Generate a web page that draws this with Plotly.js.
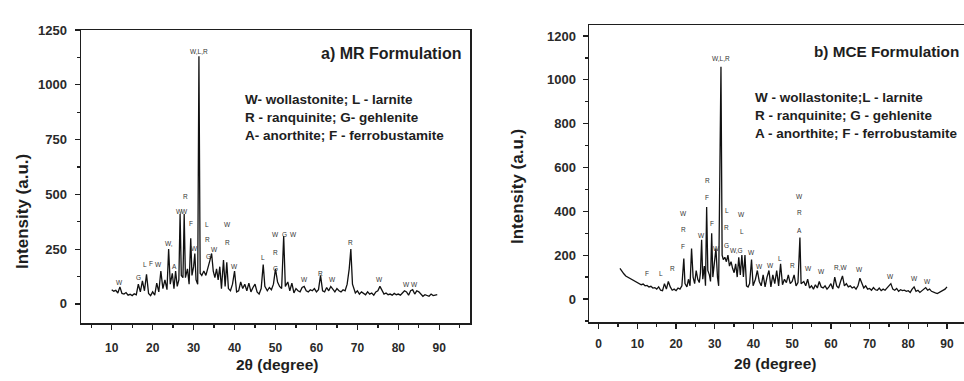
<!DOCTYPE html>
<html>
<head>
<meta charset="utf-8">
<script src="https://cdn.plot.ly/plotly-3.0.1.min.js"></script>
<style>
html,body{margin:0;padding:0;background:#fff;overflow:hidden;width:964px;height:381px;}
#chart{width:1000px;height:381px;}
</style>
</head>
<body>
<div id="chart"></div>
<script>
// ---- a) MR formulation ----
const mrTheta = [10.0,10.5,11.0,11.5,12.0,12.5,13.0,13.5,14.0,14.5,15.0,15.5,16.0,16.5,17.0,17.5,18.0,18.5,19.0,19.5,20.0,20.5,21.0,21.5,22.0,22.5,23.0,23.5,23.9,24.3,24.8,25.2,25.6,26.0,26.4,26.7,27.0,27.4,27.7,28.0,28.5,28.9,29.3,29.6,30.0,30.3,30.6,31.0,31.3,31.6,32.0,32.5,33.0,33.5,34.0,34.4,34.8,35.2,35.6,36.0,36.4,36.8,37.3,37.7,38.1,38.5,39.0,39.5,40.0,40.5,41.0,41.5,42.0,42.5,43.0,43.5,44.0,44.5,45.0,45.5,46.0,46.5,47.0,47.4,48.0,48.5,49.0,49.5,50.0,50.5,51.0,51.5,52.0,52.4,53.0,53.5,54.0,54.5,55.0,55.5,56.0,56.5,57.0,57.5,58.0,58.5,59.0,59.5,60.0,60.5,61.0,61.5,62.0,62.5,63.0,63.5,64.0,64.5,65.0,65.5,66.0,66.5,67.0,67.5,68.0,68.4,68.8,69.5,70.0,70.5,71.0,71.5,72.0,72.5,73.0,73.5,74.0,74.5,75.0,75.5,76.0,76.5,77.0,77.5,78.0,78.5,79.0,79.5,80.0,80.5,81.0,81.5,82.0,82.5,83.0,83.5,84.0,84.5,85.0,85.5,86.0,86.5,87.0,87.5,88.0,88.5,89.0,89.5];
const mrIntensity = [65,58,62,50,78,48,45,52,40,44,38,46,42,90,55,105,60,135,48,38,55,40,95,55,150,70,110,65,250,90,140,70,150,80,110,410,130,120,410,120,160,90,300,130,170,230,110,90,1130,140,130,150,130,160,200,230,150,120,160,110,170,70,200,80,190,70,60,90,150,55,60,100,70,90,60,95,55,75,90,55,45,70,180,80,60,75,65,90,160,100,80,70,310,80,100,60,95,50,70,60,55,75,80,60,55,65,60,70,55,65,130,60,55,75,60,80,65,55,70,60,55,65,60,90,160,250,90,50,60,45,55,48,42,55,45,50,40,55,60,80,60,45,50,42,45,40,48,42,45,40,50,60,55,40,60,65,45,60,55,45,35,42,38,35,45,38,40,42];

// ---- b) MCE formulation ----
const mceTheta = [5.5,6.0,6.5,7.0,7.5,8.0,8.5,9.0,9.5,10.0,10.5,11.0,11.5,12.0,12.5,13.0,13.5,14.0,14.5,15.0,15.5,16.0,16.5,17.0,17.5,18.0,18.5,19.0,19.5,20.0,20.5,21.0,21.5,22.0,22.3,22.8,23.2,23.6,24.0,24.4,24.8,25.2,25.6,26.0,26.3,26.6,26.9,27.3,27.6,27.9,28.2,28.6,28.9,29.2,29.5,29.9,30.3,30.7,31.0,31.6,31.9,32.2,32.6,33.0,33.4,33.8,34.2,34.6,35.0,35.4,35.8,36.2,36.6,37.0,37.4,37.8,38.2,38.6,39.0,39.5,39.9,40.5,41.0,41.5,42.0,42.5,43.0,43.5,44.0,44.5,45.0,45.5,46.0,46.5,47.0,47.5,48.0,48.5,49.0,49.5,50.0,50.5,51.0,51.5,52.0,52.3,53.0,53.5,54.0,54.5,55.0,55.5,56.0,56.5,57.0,57.5,58.0,58.5,59.0,59.5,60.0,60.5,61.0,61.5,62.0,62.5,63.0,63.5,64.0,64.5,65.0,65.5,66.0,66.5,67.0,67.5,68.0,68.5,69.0,69.5,70.0,70.5,71.0,71.5,72.0,72.5,73.0,73.5,74.0,74.5,75.0,75.5,76.0,76.5,77.0,77.5,78.0,78.5,79.0,79.5,80.0,80.5,81.0,81.5,82.0,82.5,83.0,83.5,84.0,84.5,85.0,85.5,86.0,86.5,87.0,87.5,88.0,88.5,89.0,89.5,90.0];
const mceIntensity = [140,125,115,105,100,92,88,82,78,72,70,65,68,60,62,55,58,50,52,45,55,40,38,70,45,80,55,40,45,38,50,45,60,185,70,55,90,60,230,100,70,130,90,75,120,270,90,150,60,420,130,110,80,300,100,180,230,100,60,1060,200,180,190,170,200,150,170,140,120,160,100,190,110,200,100,200,60,55,70,180,60,90,130,80,60,110,55,100,130,55,110,70,130,60,160,65,90,75,110,70,80,110,60,75,280,70,80,60,90,50,60,45,65,50,80,55,50,60,45,55,70,45,100,60,50,80,105,60,70,55,60,50,55,45,60,95,70,50,60,45,48,40,52,42,40,50,38,45,40,50,55,70,45,40,48,35,42,38,40,35,38,30,45,55,35,40,30,38,45,52,40,45,35,30,28,25,30,35,40,45,55];

// ---- phase labels on peaks ----
const mrLabelText = ["W,L,R","W","G","L","F","W","W,","A","W","W","R","F","W","L","R","G","W","W","R","W","L","W","R","G","G","W","W","R","W","R","W","W","W"];
const mrLabelTheta = [31.3,12.0,16.6,18.2,19.7,21.4,24.0,25.3,26.6,27.7,28.0,29.3,30.2,33.3,33.3,33.6,35.0,38.3,38.3,40.0,47.0,50.0,50.0,50.0,52.3,54.3,57.0,61.0,64.0,68.3,75.5,82.0,84.0];
const mrLabelIntensity = [1150,100,122,180,185,180,277,170,420,420,490,366,255,364,296,216,250,361,282,170,212,318,236,163,318,318,113,140,113,282,113,90,90];

const mceLabelText = ["W,L,R","R","F","W","R","F","W","F","W","L","R","G","W","L","W,G","W","W","W","L","R","W","R","A","W","W","R,W","W","W","W","W","F","L","R"];
const mceLabelTheta = [31.6,28.0,28.0,21.9,21.9,21.9,26.5,29.3,30.5,33.1,33.1,33.1,37.0,37.0,35.6,39.5,41.5,44.5,46.9,50.0,51.8,51.8,51.8,54.3,57.5,62.6,67.4,75.5,81.5,85.0,12.5,16.0,19.0];
const mceLabelIntensity = [1098,541,465,389,317,241,291,344,230,405,324,245,386,306,222,212,147,155,185,155,468,394,314,140,124,142,135,101,94,82,117,117,140];

const legendA = ["W- wollastonite; L - larnite","R - ranquinite; G- gehlenite","A- anorthite; F - ferrobustamite"];
const legendB = ["W - wollastonite;L - larnite","R - ranquinite; G - gehlenite","A - anorthite; F - ferrobustamite"];

const FONT = "Liberation Sans, Arial, sans-serif";
const INK = "#1e1e1e";
const W = 1000, H = 381;
const px = v => v / W;
const py = v => 1 - v / H;

const traces = [
  {x: mrTheta, y: mrIntensity, type: "scatter", mode: "lines", xaxis: "x", yaxis: "y",
   line: {color: "#111", width: 1.3}, hoverinfo: "skip"},
  {x: mceTheta, y: mceIntensity, type: "scatter", mode: "lines", xaxis: "x2", yaxis: "y2",
   line: {color: "#111", width: 1.3}, hoverinfo: "skip"}
];

function axisCommon(fs) {
  return {
    showline: true, mirror: true, linecolor: INK, linewidth: 1.5,
    ticks: "outside", ticklen: 5, tickwidth: 1.3, tickcolor: INK,
    showgrid: false, zeroline: false,
    tickfont: {family: FONT, size: fs, color: "#2a2a2a", weight: "bold"}
  };
}

const layout = {
  width: W, height: H,
  margin: {l: 0, r: 0, t: 0, b: 0},
  paper_bgcolor: "#fff", plot_bgcolor: "#fff",
  showlegend: false,
  xaxis: Object.assign(axisCommon(12), {domain: [px(81), px(470)], range: [2.5, 97.5], dtick: 10, tick0: 0,
    anchor: "y", ticklabelstandoff: 8,
    minor: {dtick: 5, tick0: 0, ticks: "outside", ticklen: 3, tickcolor: INK}}),
  yaxis: Object.assign(axisCommon(13), {domain: [1 - 323 / H, 1 - 30 / H], range: [-87, 1250], dtick: 250, tick0: 0,
    anchor: "x", ticklabelstandoff: 5,
    minor: {dtick: 125, tick0: 0, ticks: "outside", ticklen: 3, tickcolor: INK}}),
  xaxis2: Object.assign(axisCommon(12), {domain: [px(589), px(976)], range: [-2.5, 97.5], dtick: 10, tick0: 0,
    anchor: "y2", ticklabelstandoff: 5,
    minor: {dtick: 5, tick0: 0, ticks: "outside", ticklen: 3, tickcolor: INK}}),
  yaxis2: Object.assign(axisCommon(13), {domain: [1 - 322 / H, 1 - 25 / H], range: [-105, 1250], dtick: 200, tick0: 0,
    anchor: "x2", ticklabelstandoff: 4,
    minor: {dtick: 100, tick0: 0, ticks: "outside", ticklen: 3, tickcolor: INK}}),
  annotations: []
};

const ann = layout.annotations;
const C = {xanchor: "center", yanchor: "middle", showarrow: false};
// axis titles
const yTitleFont = {family: FONT, size: 17, color: INK, weight: "bold"};
const xTitleFont = {family: FONT, size: 15.5, color: INK, weight: "bold"};
ann.push(Object.assign({xref: "paper", yref: "paper", x: px(22), y: py(212), text: "Intensity (a.u.)", textangle: -90, font: yTitleFont}, C));
ann.push(Object.assign({xref: "paper", yref: "paper", x: px(517), y: py(187), text: "Intensity (a.u.)", textangle: -90, font: yTitleFont}, C));
ann.push(Object.assign({xref: "paper", yref: "paper", x: px(277), y: py(364), text: "2θ (degree)", font: xTitleFont}, C));
ann.push(Object.assign({xref: "paper", yref: "paper", x: px(775), y: py(363), text: "2θ (degree)", font: xTitleFont}, C));
// panel titles
ann.push({xref: "x", yref: "y", x: 95.8, y: 1145, text: "a) MR Formulation", xanchor: "right", yanchor: "middle", showarrow: false,
  font: {family: FONT, size: 16, color: INK, weight: "bold"}});
ann.push({xref: "x2", yref: "y2", x: 55.2, y: 1131, text: "b) MCE Formulation", xanchor: "left", yanchor: "middle", showarrow: false,
  font: {family: FONT, size: 15.3, color: INK, weight: "bold"}});
// legend lines
const legFont = {family: FONT, size: 13.5, color: INK, weight: "bold"};
const legAy = [931, 849, 767];
legendA.forEach((t, i) => ann.push({xref: "x", yref: "y", x: 42, y: legAy[i], text: t, xanchor: "left", yanchor: "middle", showarrow: false, font: legFont}));
const legBy = [917, 835, 757];
legendB.forEach((t, i) => ann.push({xref: "x2", yref: "y2", x: 39.9, y: legBy[i], text: t, xanchor: "left", yanchor: "middle", showarrow: false, font: legFont}));
// peak labels
const pkFont = {family: FONT, size: 6.5, color: "#333"};
mrLabelText.forEach((t, i) => ann.push(Object.assign({xref: "x", yref: "y", x: mrLabelTheta[i], y: mrLabelIntensity[i], text: t, font: pkFont}, C)));
mceLabelText.forEach((t, i) => ann.push(Object.assign({xref: "x2", yref: "y2", x: mceLabelTheta[i], y: mceLabelIntensity[i], text: t, font: pkFont}, C)));

Plotly.newPlot("chart", traces, layout, {staticPlot: true, displayModeBar: false});
</script>
</body>
</html>
